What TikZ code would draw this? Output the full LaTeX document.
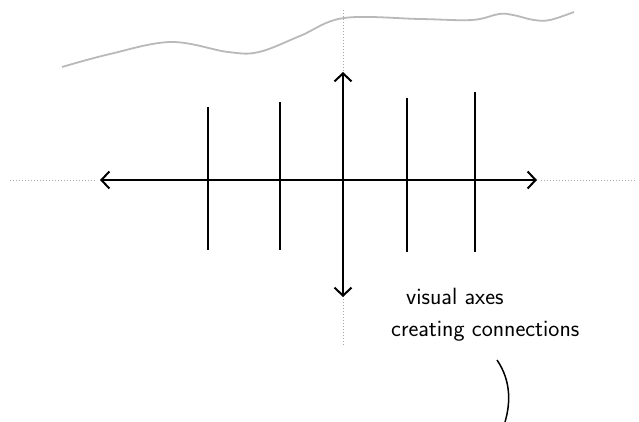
\documentclass[tikz,border=0pt]{standalone}
\usepackage{tikz}
\usetikzlibrary{positioning,arrows.meta}
\tikzset{
  axis/.style={{Straight Barb[length=8pt,width=17pt]}-{Straight Barb[length=8pt,width=17pt]},line width=2pt},
  tickline/.style={line width=1.5pt},
  guide/.style={dotted,gray!70,line width=1pt},
  horizon/.style={gray!55,line width=1.8pt},
  note/.style={anchor=west,font=\sffamily\fontsize{23.5}{28}\selectfont,inner sep=0pt},
}

\begin{document}
\begin{tikzpicture}[x=1pt,y=-1pt]
\useasboundingbox (0,0) rectangle (639,422);
% horizon
\draw[horizon] plot[smooth,tension=0.6] coordinates {(62,67) (110,54) (171,42) (228,52) (259,52) (300,36) (344,18) (420,19) (472,20) (499,14) (513,15) (534,20) (550,20) (574,12)};
% axes end points
\coordinate (top) at (343,72);
\coordinate (bottom) at (343,297);
\coordinate (left) at (100,180);
\coordinate (right) at (537,180);
\coordinate (topguide) at (343,10);
\coordinate (botguide) at (343,345);
\coordinate (leftguide) at (10,180);
\coordinate (rightguide) at (635,180);
\draw[guide] (topguide) -- (top);
\draw[guide] ([yshift=4pt]bottom) -- (botguide);
\draw[guide] (leftguide) -- ([xshift=-4pt]left);
\draw[guide] ([xshift=4pt]right) -- (rightguide);
\draw[axis] (left) -- (right);
\draw[axis] (top) -- (bottom);
% ticks
\foreach \x/\a/\b in {208/107/250, 280/102/250, 407/98/252, 475/92/252}
  \draw[tickline] (\x,\a) -- (\x,\b);
% label
\node[note] (lbla) at (406,296) {visual axes};
\node[note] (lblb) at (391,331) {creating connections};
\draw[tickline] (497,360) .. controls (512,382) and (510,405) .. (505,422);
\end{tikzpicture}
\end{document}
